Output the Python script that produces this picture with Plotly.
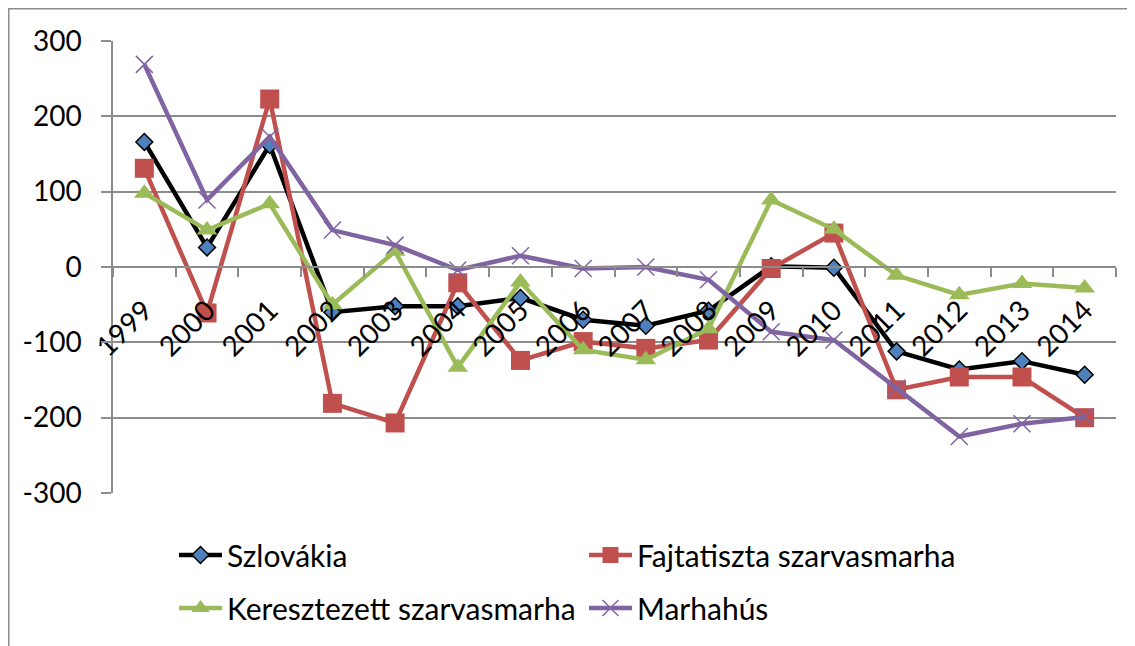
import plotly.graph_objects as go

years = [str(y) for y in range(1999, 2015)]
szlovakia = [166, 26, 162, -60, -52, -52, -41, -70, -78, -58, 1, -1, -112, -136, -125, -143]
fajtatiszta = [131, -61, 223, -181, -207, -21, -124, -99, -108, -97, -2, 45, -163, -146, -146, -200]
keresztezett = [98, 49, 84, -50, 21, -133, -20, -110, -123, -82, 89, 50, -11, -37, -22, -28]
marhahus = [269, 89, 173, 49, 29, -4, 15, -2, 0, -17, -86, -97, -161, -225, -208, -199]
y_ticks = [-300, -200, -100, 0, 100, 200, 300]
y_tick_text = ["-300", "-200", "-100", "0", "100", "200", "300"]

FONT = "Lato"
GRID = "#8c8c8c"

fig = go.Figure()
fig.add_trace(go.Scatter(
    x=years, y=szlovakia, name="Szlovákia", mode="lines+markers", legend="legend",
    line=dict(color="black", width=4.5),
    marker=dict(symbol="diamond", size=13, color="#4F81BD", line=dict(color="black", width=1.5)),
))
fig.add_trace(go.Scatter(
    x=years, y=fajtatiszta, name="Fajtatiszta szarvasmarha", mode="lines+markers", legend="legend",
    line=dict(color="#C0504D", width=4.5),
    marker=dict(symbol="square", size=19, color="#C0504D"),
))
fig.add_trace(go.Scatter(
    x=years, y=keresztezett, name="Keresztezett szarvasmarha", mode="lines+markers", legend="legend2",
    line=dict(color="#9BBB59", width=4.5),
    marker=dict(symbol="triangle-up", size=18, color="#9BBB59"),
))
fig.add_trace(go.Scatter(
    x=years, y=marhahus, name="Marhahús", mode="lines+markers", legend="legend2",
    line=dict(color="#8064A2", width=4.5),
    marker=dict(symbol="x-thin", size=17, color="#8064A2", line=dict(color="#8064A2", width=1.5)),
))

OFF = 8  # page body offset
W, H = 1135, 646
L, R, T, B = 105, 27, 33, 161
pw = W - L - R
ph = H - T - B


def py(pix):
    return (T + ph - (pix - OFF)) / ph


def px(pix):
    return (pix - OFF - L) / pw


leg_common = dict(
    orientation="h", xanchor="left", yanchor="middle",
    entrywidth=352, entrywidthmode="pixels",
    font=dict(family=FONT, size=30), itemwidth=43,
    bgcolor="rgba(0,0,0,0)",
)

fig.update_layout(
    width=W, height=H,
    margin=dict(l=L, r=R, t=T, b=B, autoexpand=False),
    paper_bgcolor="white", plot_bgcolor="white",
    font=dict(family=FONT, size=28, color="black"),
    showlegend=True,
    legend=dict(x=px(174), y=py(555), **leg_common),
    legend2=dict(x=px(174), y=py(608), **leg_common),
    xaxis=dict(
        type="category", range=[-0.5, 15.5],
        anchor="free", position=0.5, automargin=False,
        showline=True, linecolor=GRID, linewidth=1.5,
        ticks="outside", ticklen=9, tickcolor=GRID, tickwidth=1.5,
        tickson="boundaries", tickangle=-45,
        ticklabelstandoff=15, ticklabelshift=0,
        tickfont=dict(family=FONT, size=28),
        showgrid=False, zeroline=False,
    ),
    yaxis=dict(
        range=[-300, 300], tickvals=y_ticks, ticktext=y_tick_text, automargin=False,
        showline=True, linecolor=GRID, linewidth=1.5,
        ticks="outside", ticklen=10, tickcolor=GRID, tickwidth=1.5,
        ticklabelstandoff=14,
        showgrid=True, gridcolor=GRID, gridwidth=1.5,
        zeroline=False,
        tickfont=dict(family=FONT, size=28),
    ),
    shapes=[dict(
        type="rect", xref="paper", yref="paper",
        x0=px(8.8), x1=px(1150),
        y0=py(670), y1=py(8.8),
        line=dict(color=GRID, width=1.5), fillcolor="rgba(0,0,0,0)", layer="below",
    )],
)

fig.write_html("out.html")
